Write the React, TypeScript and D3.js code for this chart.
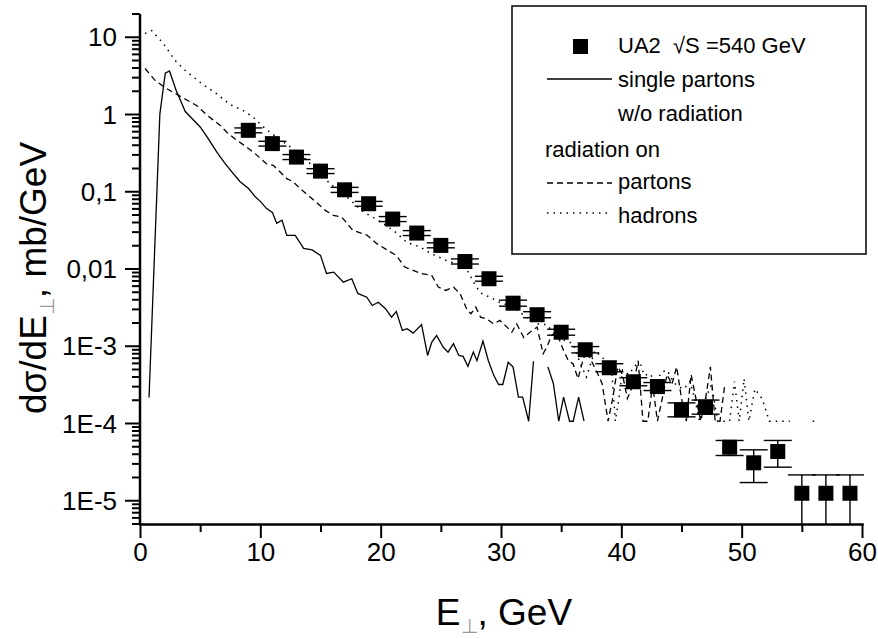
import React, { useEffect, useRef } from 'react';
import * as d3 from 'd3';

const W = 878;
const H = 639;
const FONT = "'Liberation Sans', Arial, sans-serif";

// UA2 measured points, sqrt(s) = 540 GeV
const ua2E = [9, 11, 13, 15, 17, 19, 21, 23, 25, 27, 29, 31, 33, 35, 37, 39, 41, 43, 45, 47, 49, 51, 53, 55, 57, 59];
const ua2Val = [0.624, 0.42, 0.281, 0.185, 0.106, 0.070, 0.0443, 0.0292, 0.0202, 0.0125, 0.00748, 0.00361, 0.00256,
  0.00152, 0.000901, 0.000527, 0.000347, 0.000301, 0.000150, 0.000163, 4.93e-5, 3.10e-5, 4.34e-5, 1.25e-5, 1.25e-5, 1.25e-5];
const ua2Lo = [0.58, 0.39, 0.261, 0.172, 0.098, 0.065, 0.0411, 0.0271, 0.0188, 0.0116, 0.00695, 0.0033, 0.00234,
  0.00139, 0.00082, 0.000468, 0.000308, 0.000267, 0.000122, 0.000132, 3.85e-5, 1.72e-5, 2.72e-5, 1e-7, 1e-7, 1e-7];
const ua2Hi = [0.67, 0.45, 0.303, 0.199, 0.114, 0.075, 0.0477, 0.0314, 0.0218, 0.0135, 0.00805, 0.00395, 0.0028,
  0.00166, 0.00099, 0.000594, 0.000391, 0.000339, 0.000185, 0.000201, 6.03e-5, 4.56e-5, 6.03e-5, 2.16e-5, 2.16e-5, 2.16e-5];

// single partons w/o radiation (solid)
const singleE = [0.75, 1.65, 2.1, 2.45, 3.0, 3.5, 3.75, 4.3, 5.0, 5.6, 6.4, 7.0, 7.6, 8.3, 9.0, 9.6, 10.0, 10.5, 11.0, 11.36,
  11.8, 12.2, 12.9, 13.6, 14.3, 15.0, 15.5, 16.1, 16.9, 17.6, 18.1, 18.85, 19.3, 19.8, 20.4, 20.9, 21.3, 21.8, 22.2, 22.7,
  23.4, 23.9, 24.25, 24.65, 25.2, 25.6, 26.05, 26.5, 26.85, 27.25, 27.7, 28.0, 28.5, 28.95, 29.4, 29.8, 30.15, 30.6, 31.0, 31.45,
  31.8, 32.3, 32.7, 33.3, 33.9, 34.35, 34.8, 35.2, 35.7, 36.0, 36.45, 36.9];
const singleVal = [2.17e-4, 1.01, 3.42, 3.66, 2.06, 1.36, 1.10, 0.893, 0.689, 0.507, 0.324, 0.240, 0.184, 0.136, 0.111,
  0.0853, 0.0751, 0.0610, 0.0541, 0.0390, 0.0427, 0.0272, 0.0272, 0.0185, 0.0177, 0.0150, 0.00877, 0.00912, 0.00676, 0.00748,
  0.00483, 0.00432, 0.00337, 0.00372, 0.00306, 0.00238, 0.00282, 0.00160, 0.00169, 0.00148, 0.00191, 0.00076, 0.00113, 0.00138,
  0.00097, 0.00084, 0.00108, 0.00076, 0.00074, 0.00055, 0.00084, 0.00065, 0.00117, 0.00065, 0.00042, 0.00032, 0.00032, 0.00062,
  0.00054, 0.00022, 0.00022, 0.000107, 0.00064, null, 0.00054, 0.00033, 0.000107, 0.00022, 0.000107, 0.000107, 0.00022, 0.000107];

// radiation on, partons (dashed)
const partonsE = [0.42, 1.25, 2.22, 3.7, 4.7, 5.54, 6.65, 7.2, 8.04, 8.87, 9.56, 10.5, 11.08, 12.2, 12.75, 13.3, 14.4, 15.4,
  16.07, 16.76, 17.7, 18.85, 19.68, 20.6, 21.3, 22.0, 22.7, 23.4, 24.24, 24.8, 25.4, 26.05, 26.6, 27.2, 27.5, 27.9, 28.3, 28.8,
  29.4, 29.9, 30.5, 30.9, 31.3, 31.9, 32.4, 33.0, 33.5, 33.8, 34.2, 34.6, 35.2, 35.6, 36.0, 36.4, 36.8, 37.1, 37.5, 37.9, 38.4,
  38.9, 39.3, 39.7, 40.1, 40.5, 41.0, 41.4, 41.8, 42.2, 42.6, 43.0, 43.4, 43.8, 44.2, 44.6, 45.0, 45.4, 45.8, 46.2, 46.6, 47.0,
  47.4, 47.8, 48.2, 48.6];
const partonsVal = [3.94, 2.77, 2.16, 1.6, 1.31, 0.99, 0.724, 0.593, 0.464, 0.379, 0.312, 0.231, 0.22, 0.148, 0.134, 0.11,
  0.079, 0.0574, 0.0495, 0.047, 0.0316, 0.0275, 0.0213, 0.0174, 0.015, 0.0106, 0.0096, 0.0087, 0.00827, 0.00583, 0.00528,
  0.00583, 0.00478, 0.00291, 0.00264, 0.00321, 0.00238, 0.00227, 0.00195, 0.00216, 0.00177, 0.00152, 0.00195, 0.00129, 0.00152,
  0.00177, 0.0008, 0.00097, 0.00138, 0.00152, 0.00088, 0.00065, 0.00059, 0.00038, 0.00065, 0.00088, 0.00065, 0.00049, 0.00033,
  0.000107, 0.00022, 0.00054, 0.00043, 0.00021, 0.00032, 0.00065, 0.000107, 0.000107, 0.00032, 0.000107, 0.00021, 0.00043,
  0.00032, 0.00054, 0.00021, 0.000107, 0.00043, 0.00021, 0.000107, 0.00021, 0.00054, 0.000107, 0.000107, 0.00032];

// radiation on, hadrons (dotted)
const hadronsE = [0.42, 0.97, 1.94, 2.9, 3.74, 5.0, 6.38, 7.48, 8.7, 9.4, 10.5, 11.36, 12.5, 13.6, 14.7, 15.8, 17.2, 18.57,
  19.68, 21.06, 22.2, 23.3, 24.2, 25.75, 26.6, 27.3, 27.7, 28.3, 29.1, 29.9, 31.0, 31.9, 32.9, 33.8, 34.7, 36.0, 36.6, 37.1,
  37.8, 38.7, 39.2, 39.5, 39.8, 40.1, 40.6, 41.2, 41.6, 41.9, 42.4, 42.9, 43.3, 43.8, 44.3, 44.7, 45.2, 45.7, 46.1, 46.5, 47.0,
  47.5, 48.0, 48.5, 49.0, 49.4, 49.8, 50.2, 50.6, 51.1, 51.7, 52.3, 52.8, 53.4, 54.0, 55.0, 55.9, 56.3];
const hadronsVal = [11.2, 12.2, 8.3, 5.04, 3.74, 2.6, 1.85, 1.35, 1.1, 0.92, 0.64, 0.51, 0.38, 0.281, 0.189, 0.127, 0.0853,
  0.0546, 0.044, 0.0316, 0.022, 0.0192, 0.0158, 0.0123, 0.0117, 0.0091, 0.0068, 0.0049, 0.0043, 0.0037, 0.00323, 0.00252,
  0.00195, 0.0019, 0.0013, 0.00108, 0.00059, 0.0004, 0.00088, 0.00065, 0.00049, 0.000107, 0.00021, 0.00049, 0.00043, 0.00057,
  0.00059, 0.00042, 0.00044, 0.00032, 0.00046, 0.00049, 0.00035, 0.0003, 0.00028, 0.00035, 0.00021, 0.000107, 0.00021, 0.00032,
  0.000107, 0.000107, 0.000107, 0.00035, 0.000107, 0.00038, 0.000107, 0.00028, 0.00021, 0.000107, 0.000107, 0.000107, 0.000107,
  null, 0.000107, 0.000107];

const xTicks = [0, 10, 20, 30, 40, 50, 60];
const xMinorTicks = [5, 15, 25, 35, 45, 55];
const yTicks = [1e-5, 1e-4, 1e-3, 0.01, 0.1, 1, 10];
const yTickLabels = ['1E-5', '1E-4', '1E-3', '0,01', '0,1', '1', '10'];
const yMinorMultipliers = [2, 3, 4, 5, 6, 7, 8, 9];

const DOT = '1.5,5';
const DASH = '6,4';

const App = () => {
  const svgRef = useRef<SVGSVGElement>(null);

  useEffect(() => {
    const svg = d3.select(svgRef.current);
    svg.selectAll('*').remove();

    const x = d3.scaleLinear().domain([0, 60]).range([140, 862]);
    const y = d3.scaleLog().domain([5e-6, 20]).range([524, 14]).clamp(true);
    const [yMin, yMax] = y.domain();
    const x0 = x(0);

    // minor log ticks: 2..9 of each decade inside the domain
    const yMinor: number[] = [];
    [1e-6, ...yTicks].forEach(dec => {
      yMinorMultipliers.forEach(m => {
        const v = m * dec;
        if (v >= yMin * 0.9999 && v <= yMax * 1.0001) yMinor.push(v);
      });
    });

    // curves
    const line = d3.line<[number, number | null]>()
      .defined(d => d[1] != null)
      .x(d => x(d[0]))
      .y(d => y(d[1] as number));

    const curves = [
      { xs: singleE, vs: singleVal, dash: null, w: 1.3 },
      { xs: partonsE, vs: partonsVal, dash: DASH, w: 1.3 },
      { xs: hadronsE, vs: hadronsVal, dash: DOT, w: 1.5 },
    ];
    curves.forEach(c => {
      const pts = c.xs.map((e, i) => [e, c.vs[i]] as [number, number | null]);
      svg.append('path')
        .attr('d', line(pts))
        .attr('fill', 'none')
        .attr('stroke', '#000')
        .attr('stroke-width', c.w)
        .attr('stroke-dasharray', c.dash);
    });

    // UA2 points with error bars
    const pg = svg.append('g');
    ua2E.forEach((e, i) => {
      const cx = x(e);
      pg.append('line')
        .attr('x1', cx).attr('x2', cx)
        .attr('y1', y(ua2Lo[i])).attr('y2', y(ua2Hi[i]))
        .attr('stroke', '#000').attr('stroke-width', 1.4);
      const caps = ua2Lo[i] >= yMin ? [ua2Lo[i], ua2Hi[i]] : [ua2Hi[i]];
      caps.forEach(v => {
        pg.append('line')
          .attr('x1', cx - 14).attr('x2', cx + 14)
          .attr('y1', y(v)).attr('y2', y(v))
          .attr('stroke', '#000').attr('stroke-width', 1.4);
      });
      pg.append('rect')
        .attr('x', cx - 7.5).attr('y', y(ua2Val[i]) - 7.5)
        .attr('width', 15).attr('height', 15)
        .attr('fill', '#000');
    });

    // y axis (log) drawn from the scale
    const gy = svg.append('g');
    gy.selectAll('line.minor').data(yMinor).enter().append('line')
      .attr('class', 'minor')
      .attr('x1', x0 - 8).attr('x2', x0)
      .attr('y1', d => y(d)).attr('y2', d => y(d))
      .attr('stroke', '#000').attr('stroke-width', 2);
    gy.selectAll('line.major').data(yTicks).enter().append('line')
      .attr('class', 'major')
      .attr('x1', x0 - 15).attr('x2', x0)
      .attr('y1', d => y(d)).attr('y2', d => y(d))
      .attr('stroke', '#000').attr('stroke-width', 2);
    gy.selectAll('text').data(yTicks).enter().append('text')
      .attr('x', x0 - 23).attr('y', d => y(d))
      .attr('dy', '0.35em')
      .attr('text-anchor', 'end')
      .attr('font-family', FONT).attr('font-size', 26)
      .text((d, i) => yTickLabels[i]);
    gy.append('line')
      .attr('x1', x0).attr('x2', x0)
      .attr('y1', y(yMin)).attr('y2', y(yMax))
      .attr('stroke', '#000').attr('stroke-width', 2.5);

    // x axis
    const styleAxis = (g: any, showDomain: boolean) => {
      g.select('.domain').attr('stroke-width', 2.5).attr('stroke', showDomain ? '#000' : 'none');
      g.selectAll('.tick line').attr('stroke-width', 2).attr('stroke', '#000');
      g.selectAll('.tick text').attr('font-family', FONT).attr('font-size', 26).attr('fill', '#000');
    };
    const gxMinor = svg.append('g').attr('transform', 'translate(0,524)')
      .call(d3.axisBottom(x).tickValues(xMinorTicks).tickSize(8).tickSizeOuter(0).tickFormat(() => ''));
    styleAxis(gxMinor, false);
    const gx = svg.append('g').attr('transform', 'translate(0,524)')
      .call(d3.axisBottom(x).tickValues(xTicks).tickSize(14).tickSizeOuter(0).tickPadding(5)
        .tickFormat(d3.format('d')));
    styleAxis(gx, true);
    gx.select('.domain').attr('stroke-linecap', 'square');

    // axis titles
    const yt = svg.append('text')
      .attr('transform', 'translate(46,278) rotate(-90)')
      .attr('text-anchor', 'middle')
      .attr('font-family', FONT)
      .attr('font-size', 37);
    yt.append('tspan').text('dσ/dE');
    yt.append('tspan').attr('dy', 8).attr('font-size', 20).attr('fill', '#999').text('⊥');
    yt.append('tspan').attr('dy', -8).text(', mb/GeV');

    const xt = svg.append('text')
      .attr('x', 504).attr('y', 625)
      .attr('text-anchor', 'middle')
      .attr('font-family', FONT)
      .attr('font-size', 37);
    xt.append('tspan').text('E');
    xt.append('tspan').attr('dy', 8).attr('font-size', 20).attr('fill', '#999').text('⊥');
    xt.append('tspan').attr('dy', -8).text(', GeV');

    // legend
    const lg = svg.append('g');
    lg.append('rect')
      .attr('x', 512).attr('y', 6).attr('width', 354).attr('height', 248)
      .attr('fill', '#fff').attr('stroke', '#000').attr('stroke-width', 1.5);
    lg.append('rect').attr('x', 573).attr('y', 39).attr('width', 15).attr('height', 15).attr('fill', '#000');
    lg.append('line').attr('x1', 547).attr('x2', 612).attr('y1', 79).attr('y2', 79)
      .attr('stroke', '#000').attr('stroke-width', 1.3);
    lg.append('line').attr('x1', 547).attr('x2', 612).attr('y1', 183).attr('y2', 183)
      .attr('stroke', '#000').attr('stroke-width', 1.3).attr('stroke-dasharray', DASH);
    lg.append('line').attr('x1', 547).attr('x2', 612).attr('y1', 213).attr('y2', 213)
      .attr('stroke', '#000').attr('stroke-width', 1.5).attr('stroke-dasharray', DOT);
    const legendTexts: [number, number, string][] = [
      [618, 53, 'UA2  √S =540 GeV'],
      [618, 87, 'single partons'],
      [618, 121, 'w/o radiation'],
      [545, 157, 'radiation on'],
      [618, 189, 'partons'],
      [618, 223, 'hadrons'],
    ];
    legendTexts.forEach(([tx, ty, s]) => {
      lg.append('text')
        .attr('x', tx).attr('y', ty)
        .attr('font-family', FONT)
        .attr('font-size', 22)
        .style('white-space', 'pre')
        .text(s);
    });
  }, []);

  return (
    <svg ref={svgRef} width={W} height={H}
      style={{ position: 'absolute', left: 0, top: 0, background: '#fff' }} />
  );
};

export default App;
